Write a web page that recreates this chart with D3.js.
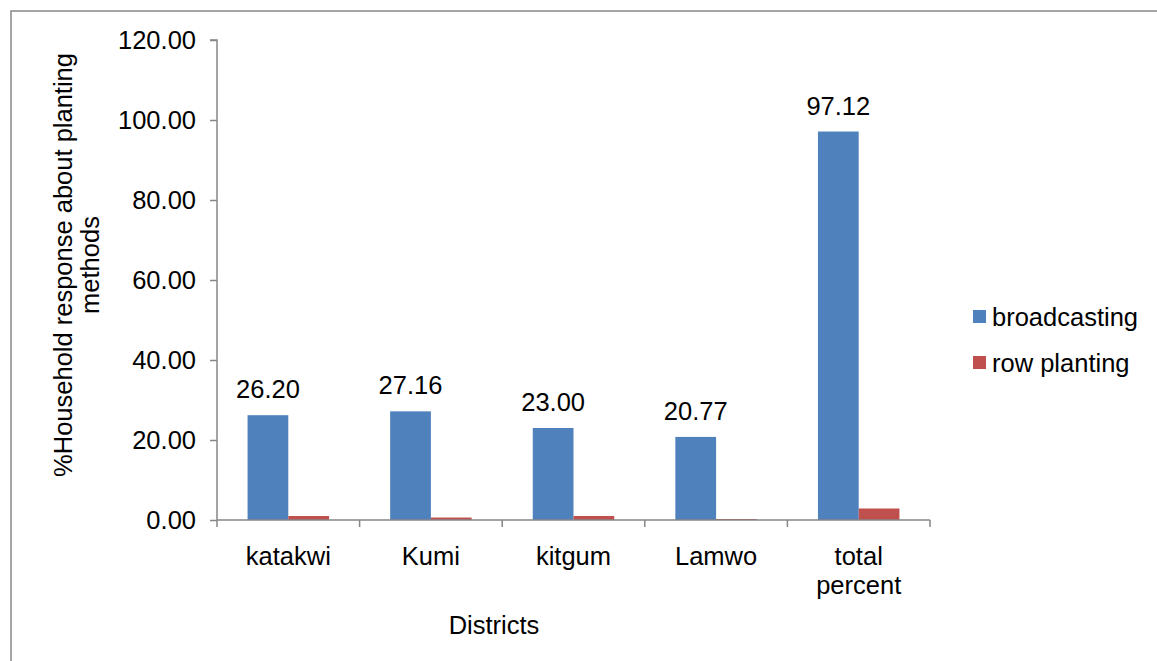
<!DOCTYPE html>
<html>
<head>
<meta charset="utf-8">
<script src="https://cdn.jsdelivr.net/npm/d3@7/dist/d3.min.js"></script>
<style>
  html, body { margin: 0; padding: 0; background: #fff; }
  svg { display: block; }
  text { font-family: "Liberation Sans", Arial, Helvetica, sans-serif; fill: #000; }
</style>
</head>
<body>
<svg id="chart" width="1157" height="661"></svg>
<script>
const categories = ["katakwi", "Kumi", "kitgum", "Lamwo", "total percent"];
const seriesNames = ["broadcasting", "row planting"];
const broadcasting = [26.20, 27.16, 23.00, 20.77, 97.12];
const rowPlanting = [1.00, 0.62, 1.01, 0.25, 2.88];
const yTicks = [0, 20, 40, 60, 80, 100, 120];
const colors = ["#4F81BD", "#C0504D"];

(function () {
const svg = d3.select("#chart");
const fontSize = 25.5;
const axisColor = "#868686";

// outer border (only top and left visible in reference)
svg.append("rect")
  .attr("x", 11).attr("y", 11)
  .attr("width", 1200).attr("height", 700)
  .attr("fill", "none").attr("stroke", "#888").attr("stroke-width", 1.5);

const pLeft = 217, pRight = 930, pTop = 40, pBottom = 520;

const x0 = d3.scaleBand().domain(categories).range([pLeft, pRight]).paddingInner(0).paddingOuter(0);
const x1 = d3.scaleBand().domain(seriesNames).range([0, x0.bandwidth()]).paddingInner(0).paddingOuter(0.75);
const y = d3.scaleLinear().domain([0, 120]).range([pBottom, pTop]);

const data = categories.map((c, i) => ({ cat: c, vals: [broadcasting[i], rowPlanting[i]] }));

// bars
const g = svg.append("g");
data.forEach(d => {
  d.vals.forEach((v, j) => {
    g.append("rect")
      .attr("x", x0(d.cat) + x1(seriesNames[j]))
      .attr("y", y(v))
      .attr("width", x1.bandwidth())
      .attr("height", y(0) - y(v))
      .attr("fill", colors[j]);
  });
});

// data labels on broadcasting bars
data.forEach(d => {
  svg.append("text")
    .attr("x", x0(d.cat) + x1(seriesNames[0]) + x1.bandwidth() / 2)
    .attr("y", y(d.vals[0]) - 17)
    .attr("text-anchor", "middle")
    .attr("font-size", fontSize)
    .text(d3.format(".2f")(d.vals[0]));
});

// y axis
const yAxis = d3.axisLeft(y).tickValues(yTicks).tickFormat(d3.format(".2f")).tickSize(7).tickPadding(14);
const yg = svg.append("g").attr("transform", `translate(${pLeft},0)`).call(yAxis);
yg.select(".domain").attr("stroke", axisColor).attr("stroke-width", 1.5).attr("d", `M-7,${pTop}H0V${pBottom}`);
yg.selectAll(".tick line").attr("stroke", axisColor).attr("stroke-width", 1.5);
yg.selectAll(".tick text").attr("font-size", fontSize).attr("font-family", "Liberation Sans, Arial, sans-serif").attr("fill", "#000");

// x axis
const xAxis = d3.axisBottom(x0).tickSize(0).tickFormat("");
const xg = svg.append("g").attr("transform", `translate(0,${pBottom})`).call(xAxis);
xg.select(".domain").attr("stroke", axisColor).attr("stroke-width", 1.5).attr("d", `M${pLeft},0H${pRight}`);
const boundaries = categories.map(c => x0(c)).concat([pRight]);
xg.selectAll(".bnd").data(boundaries).enter().append("line")
  .attr("x1", d => d).attr("x2", d => d).attr("y1", 0).attr("y2", 7)
  .attr("stroke", axisColor).attr("stroke-width", 1.5);

// x tick labels (wrapped)
categories.forEach(c => {
  const words = c.split(" ");
  const t = svg.append("text")
    .attr("text-anchor", "middle")
    .attr("font-size", fontSize);
  words.forEach((w, k) => {
    t.append("tspan")
      .attr("x", x0(c) + x0.bandwidth() / 2)
      .attr("y", 565 + k * 29)
      .text(w);
  });
});

// x axis title
svg.append("text")
  .attr("x", 494).attr("y", 634)
  .attr("text-anchor", "middle")
  .attr("font-size", fontSize)
  .text("Districts");

// y axis title
const yt = svg.append("text")
  .attr("transform", "translate(0,265) rotate(-90)")
  .attr("text-anchor", "middle")
  .attr("font-size", fontSize);
yt.append("tspan").attr("x", 0).attr("y", 72).text("%Household response about planting");
yt.append("tspan").attr("x", 0).attr("y", 99).text("methods");

// legend
const legend = svg.append("g");
seriesNames.forEach((s, j) => {
  const ly = 317 + j * 46;
  legend.append("rect")
    .attr("x", 973).attr("y", ly - 7)
    .attr("width", 13).attr("height", 13)
    .attr("fill", colors[j]);
  legend.append("text")
    .attr("x", 992).attr("y", ly + 9)
    .attr("font-size", fontSize)
    .text(s);
});
})();
</script>
</body>
</html>
